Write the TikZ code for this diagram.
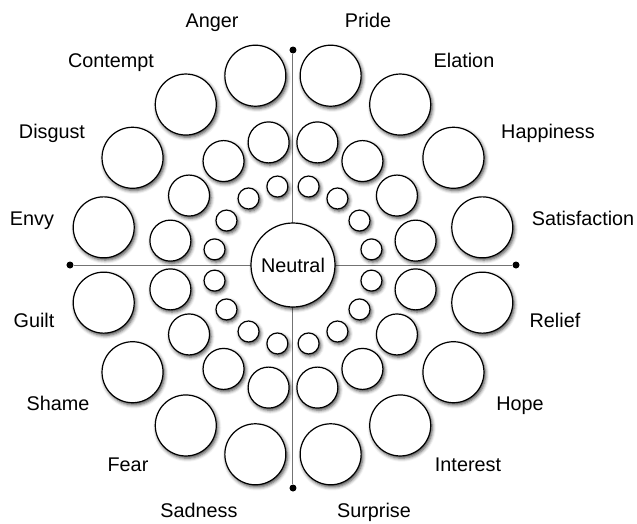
\documentclass[tikz,border=0pt]{standalone}
\usepackage{fontspec}
\setmainfont{Liberation Sans}
\usepackage{tikz}
\usetikzlibrary{shadows.blur}
\definecolor{axisgray}{RGB}{115,115,115}

\begin{document}
\begin{tikzpicture}[
    x=1pt, y=1pt,
    emotion/.style={circle, draw=black, line width=1.2pt, fill=white, inner sep=0pt,
        blur shadow={shadow xshift=1.5pt, shadow yshift=-2.2pt,
            shadow blur radius=3.5pt, shadow opacity=75}},
    feeling/.style={anchor=base, inner sep=0pt, font=\fontsize{19.8}{22}\selectfont},
    crossline/.style={draw=axisgray, line width=1pt},
    enddot/.style={circle, fill=black, inner sep=0pt, minimum size=7pt}
]
\useasboundingbox (-293,-258) rectangle (344,265);

% Axes with end points
\node[enddot] (top) at (0,215) {};
\node[enddot] (bottom) at (0,-223) {};
\node[enddot] (left) at (-223,0) {};
\node[enddot] (right) at (223,0) {};
\draw[crossline] (top) -- (bottom);
\draw[crossline] (left) -- (right);

% Three rings of circles, one spoke per emotion
\foreach \i [evaluate=\i as \ang using 11.25+22.5*\i] in {0,...,15} {
    \node[emotion, minimum size=61pt] (outer\i) at (\ang:193) {};
    \node[emotion, minimum size=41pt] (middle\i) at (\ang:125) {};
    \node[emotion, minimum size=21pt] (inner\i) at (\ang:80) {};
}

% Centre
\node[emotion, minimum size=84pt, font=\fontsize{19.8}{22}\selectfont] (neutral) at (0,0) {Neutral};

% Emotion labels
\foreach \word/\x/\y in {Anger/-81/238, Pride/75/238, Contempt/-182/198, Elation/171/198,
    Disgust/-241/127, Happiness/255/127, Envy/-261/40, Satisfaction/290/40,
    Guilt/-259/-62, Relief/262/-62, Shame/-235/-145, Hope/227/-145,
    Fear/-165/-206, Interest/175/-206, Sadness/-94/-252, Surprise/81/-252}
    \node[feeling] (\word) at (\x,\y) {\word};

\end{tikzpicture}
\end{document}
